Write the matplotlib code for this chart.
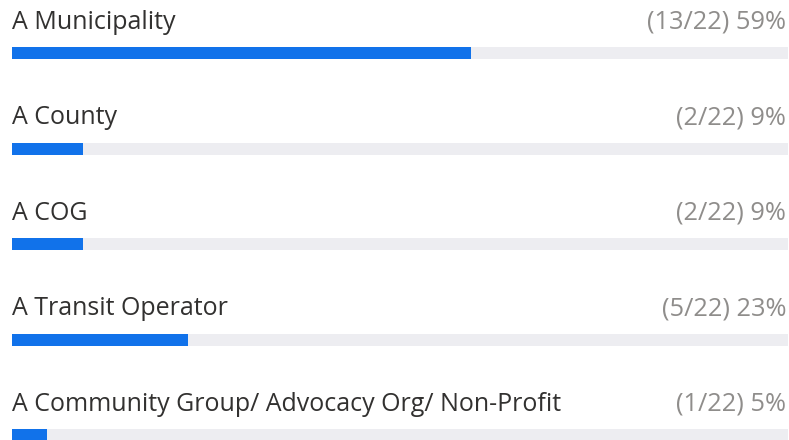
import matplotlib
matplotlib.use("Agg")
import matplotlib.pyplot as plt

categories = ["A Municipality", "A County", "A COG", "A Transit Operator",
              "A Community Group/ Advocacy Org/ Non-Profit"]
counts = [13, 2, 2, 5, 1]
total = 22
pct_labels = ["59%", "9%", "9%", "23%", "5%"]

plt.rcParams['font.family'] = ['Open Sans', 'DejaVu Sans']

W, H = 789, 440
fig = plt.figure(figsize=(W / 100, H / 100), dpi=100)
left_px, right_px = 12, 788
ax = fig.add_axes([left_px / W, 0, (right_px - left_px) / W, 1])
ax.set_xlim(0, 1)
ax.set_ylim(4.052, -0.555)
ax.axis('off')

ys = list(range(len(categories)))
bar_h = 12 / 95.5
ax.barh(ys, [1] * len(ys), height=bar_h, color='#ededf1', left=0)
ax.barh(ys, [c / total for c in counts], height=bar_h, color='#1172ea', left=0)

for y, cat, c, p in zip(ys, categories, counts, pct_labels):
    ax.text(0, y - 0.254, cat, ha='left', va='baseline', fontsize=18, color='#323130')
    ax.text(0.9975, y - 0.254, f"({c}/{total}) {p}", ha='right', va='baseline',
            fontsize=18.3, color='#8f8d8b')

fig.savefig("out.png", dpi=100)
